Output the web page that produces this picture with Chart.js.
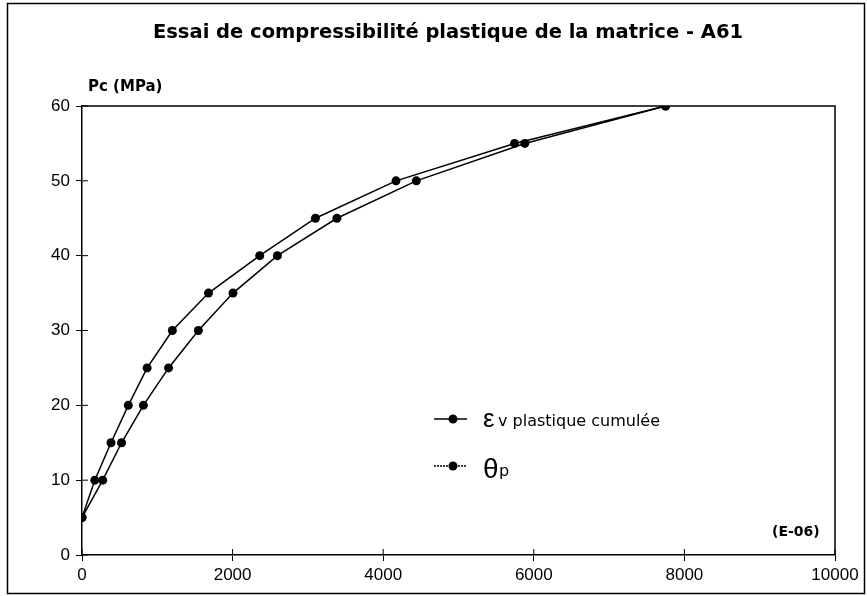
<!DOCTYPE html>
<html>
<head>
<meta charset="utf-8">
<script src="https://cdn.jsdelivr.net/npm/chart.js@4"></script>
<style>
  html, body { margin: 0; padding: 0; background: #fff; }
  canvas { display: block; }
</style>
</head>
<body>
<canvas id="myChart" width="867" height="596"></canvas>
<script>
// Pc (MPa) levels
const pcLevels = [5, 10, 15, 20, 25, 30, 35, 40, 45, 50, 55, 60];
// deformations (E-06)
const evCumul = [0, 170, 385, 615, 865, 1200, 1680, 2360, 3100, 4170, 5745, 7750];
const thetaP  = [0, 275, 525, 815, 1150, 1545, 2005, 2595, 3385, 4440, 5880, 7750];
const xTicks = [0, 2000, 4000, 6000, 8000, 10000];
const yTicks = [0, 10, 20, 30, 40, 50, 60];
const seriesLabels = ['εv plastique cumulée', 'θp'];

const FONT = "'Liberation Sans', Arial, sans-serif";
const WIDE = "'DejaVu Sans', sans-serif";

function pts(xs) {
  return xs.map((x, i) => ({ x: x, y: pcLevels[i] }));
}

// frame, title, inner ticks, legend, unit labels
const decor = {
  id: 'decor',
  afterDraw(chart) {
    const c = chart.ctx;
    const a = chart.chartArea;
    const xs = chart.scales.x, ys = chart.scales.y;
    c.save();
    c.strokeStyle = '#000';
    c.fillStyle = '#000';

    // outer frame
    c.lineWidth = 1.5;
    c.strokeRect(7.5, 3.5, 857, 590);

    // plot border top + right
    c.beginPath();
    c.moveTo(a.left, a.top);
    c.lineTo(a.right, a.top);
    c.lineTo(a.right, a.bottom);
    c.stroke();

    // ticks inside
    c.lineWidth = 1;
    c.beginPath();
    yTicks.forEach(v => {
      const y = ys.getPixelForValue(v);
      c.moveTo(a.left, y); c.lineTo(a.left + 6, y);
    });
    xTicks.forEach(v => {
      const x = xs.getPixelForValue(v);
      c.moveTo(x, a.bottom); c.lineTo(x, a.bottom - 6);
    });
    c.stroke();

    // title
    c.textAlign = 'center';
    c.textBaseline = 'middle';
    c.font = "bold 19.5px " + WIDE;
    c.fillText('Essai de compressibilité plastique de la matrice - A61', 448, 33);

    // axis units
    c.font = "bold 15px " + WIDE;
    c.textAlign = 'left';
    c.fillText('Pc (MPa)', 88, 87);
    c.font = "bold 14px " + WIDE;
    c.fillText('(E-06)', 772, 532);

    // legend
    const rows = [419, 466];
    chart.data.datasets.forEach((ds, i) => {
      const y = rows[i];
      c.lineWidth = 1.5;
      c.setLineDash(i === 1 ? [2, 1] : []);
      c.beginPath();
      c.moveTo(434, y); c.lineTo(467, y);
      c.stroke();
      c.setLineDash([]);
      c.beginPath();
      c.arc(453, y, 4.5, 0, Math.PI * 2);
      c.fill();
    });
    c.textBaseline = 'alphabetic';
    c.font = "26px " + FONT;
    c.fillText('ε', 483, 427);
    c.font = "16px " + WIDE;
    c.fillText('v plastique cumulée', 498, 426);
    c.font = "28px " + FONT;
    c.fillText('θ', 483, 478);
    c.font = "16px " + WIDE;
    c.fillText('p', 499, 476);
    c.restore();
  }
};

const ctx = document.getElementById('myChart');

new Chart(ctx, {
  type: 'scatter',
  data: {
    datasets: [{
      label: seriesLabels[0],
      data: pts(evCumul),
      showLine: true,
      borderColor: '#000',
      backgroundColor: '#000',
      borderWidth: 1.5,
      pointRadius: 4.5,
      pointBorderWidth: 0
    }, {
      label: seriesLabels[1],
      data: pts(thetaP),
      showLine: true,
      borderColor: '#000',
      backgroundColor: '#000',
      borderWidth: 1.5,
      pointRadius: 4.5,
      pointBorderWidth: 0
    }]
  },
  options: {
    responsive: false,
    animation: false,
    layout: { padding: { left: 0, top: 106, right: 32, bottom: 0 } },
    plugins: {
      legend: { display: false },
      title: { display: false },
      tooltip: { enabled: false }
    },
    scales: {
      x: {
        type: 'linear',
        min: 0, max: 10000,
        afterBuildTicks: s => { s.ticks = xTicks.map(v => ({ value: v })); },
        afterFit: s => { s.height = 41; },
        grid: { drawOnChartArea: false, tickLength: 6, color: '#000' },
        border: { display: true, color: '#000', width: 1.5 },
        ticks: { color: '#000', font: { family: FONT, size: 17 }, padding: 4, maxRotation: 0,
                 callback: v => String(v) }
      },
      y: {
        type: 'linear',
        min: 0, max: 60,
        afterBuildTicks: s => { s.ticks = yTicks.map(v => ({ value: v })); },
        afterFit: s => { s.width = 82; },
        grid: { drawOnChartArea: false, tickLength: 6, color: '#000' },
        border: { display: true, color: '#000', width: 1.5 },
        ticks: { color: '#000', font: { family: FONT, size: 17 }, padding: 6,
                 callback: v => String(v) }
      }
    }
  },
  plugins: [decor]
});
</script>
</body>
</html>
